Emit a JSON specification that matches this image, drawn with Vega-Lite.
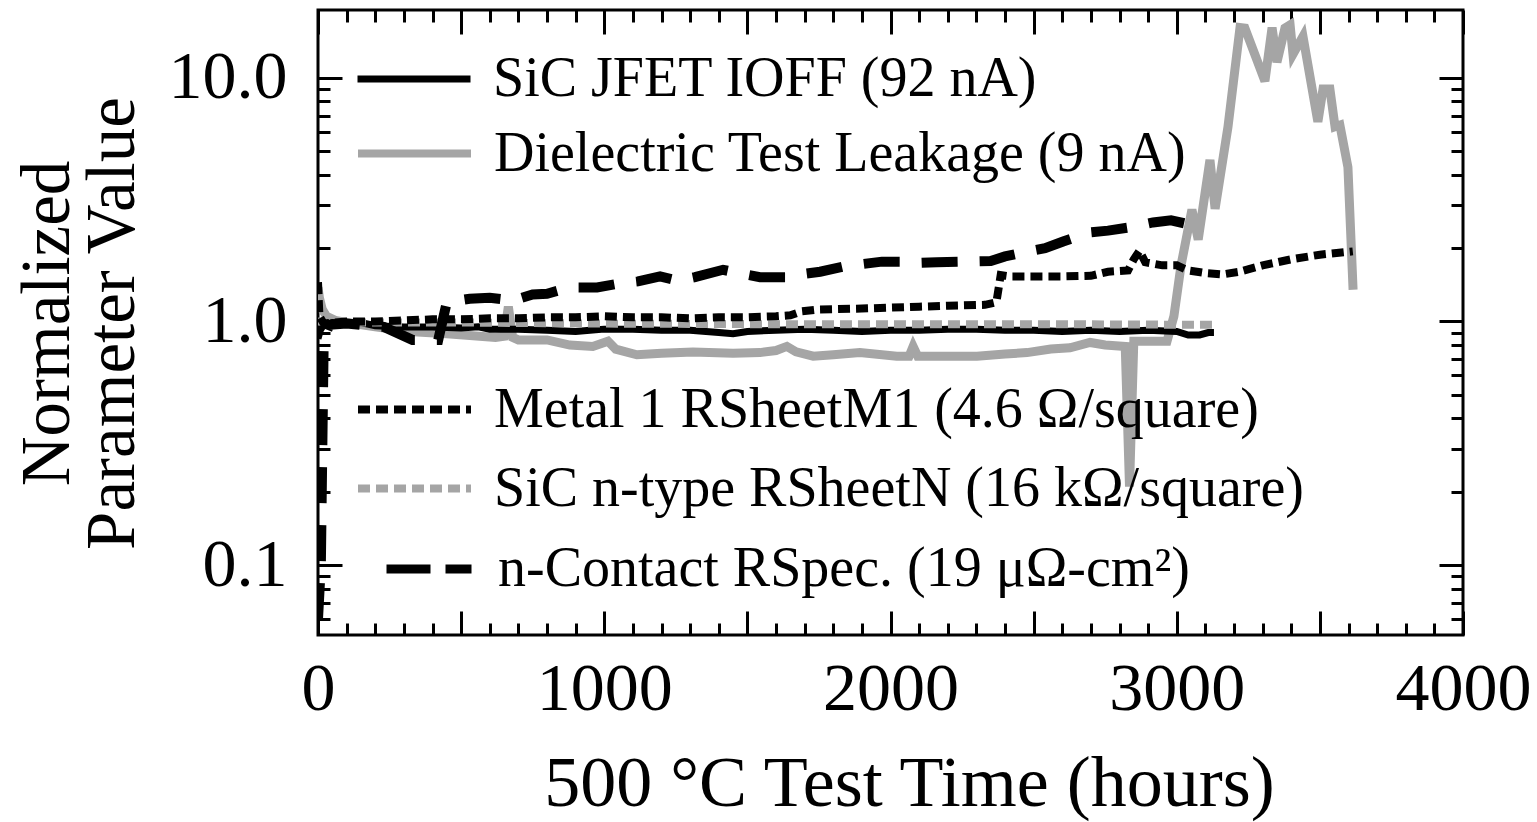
{
  "$schema": "https://vega.github.io/schema/vega-lite/v6.json",
  "width": 1145,
  "height": 625,
  "autosize": {"type": "none"},
  "padding": {"left": 318, "top": 10, "right": 74, "bottom": 187},
  "background": "white",
  "config": {
    "view": {"stroke": "black", "strokeWidth": 3},
    "font": "Liberation Serif",
    "axis": {"labelFont": "Liberation Serif", "titleFont": "Liberation Serif", "labelColor": "black", "titleColor": "black", "tickColor": "black", "grid": false, "domain": false},
    "legend": {"labelFont": "Liberation Serif", "labelColor": "black", "orient": "none", "title": null, "padding": 0, "symbolType": "stroke", "symbolSize": 12769, "labelFontSize": 56, "labelOffset": 19, "labelLimit": 0, "legendX": 36}
  },
  "data": {"values": [
      {"s": "Dielectric Test Leakage (9 nA)", "t": 0, "v": 1.38},
      {"s": "Dielectric Test Leakage (9 nA)", "t": 5, "v": 1.25},
      {"s": "Dielectric Test Leakage (9 nA)", "t": 15, "v": 1.12},
      {"s": "Dielectric Test Leakage (9 nA)", "t": 30, "v": 1.05},
      {"s": "Dielectric Test Leakage (9 nA)", "t": 60, "v": 1.01},
      {"s": "Dielectric Test Leakage (9 nA)", "t": 100, "v": 0.99},
      {"s": "Dielectric Test Leakage (9 nA)", "t": 200, "v": 0.95},
      {"s": "Dielectric Test Leakage (9 nA)", "t": 320, "v": 0.91},
      {"s": "Dielectric Test Leakage (9 nA)", "t": 450, "v": 0.89},
      {"s": "Dielectric Test Leakage (9 nA)", "t": 620, "v": 0.86},
      {"s": "Dielectric Test Leakage (9 nA)", "t": 650, "v": 0.87},
      {"s": "Dielectric Test Leakage (9 nA)", "t": 665, "v": 1.15},
      {"s": "Dielectric Test Leakage (9 nA)", "t": 680, "v": 0.86},
      {"s": "Dielectric Test Leakage (9 nA)", "t": 700, "v": 0.84},
      {"s": "Dielectric Test Leakage (9 nA)", "t": 800, "v": 0.84},
      {"s": "Dielectric Test Leakage (9 nA)", "t": 880, "v": 0.8},
      {"s": "Dielectric Test Leakage (9 nA)", "t": 960, "v": 0.79},
      {"s": "Dielectric Test Leakage (9 nA)", "t": 1013, "v": 0.83},
      {"s": "Dielectric Test Leakage (9 nA)", "t": 1040, "v": 0.77},
      {"s": "Dielectric Test Leakage (9 nA)", "t": 1114, "v": 0.73},
      {"s": "Dielectric Test Leakage (9 nA)", "t": 1200, "v": 0.74},
      {"s": "Dielectric Test Leakage (9 nA)", "t": 1310, "v": 0.75},
      {"s": "Dielectric Test Leakage (9 nA)", "t": 1450, "v": 0.74},
      {"s": "Dielectric Test Leakage (9 nA)", "t": 1544, "v": 0.745},
      {"s": "Dielectric Test Leakage (9 nA)", "t": 1600, "v": 0.76},
      {"s": "Dielectric Test Leakage (9 nA)", "t": 1638, "v": 0.79},
      {"s": "Dielectric Test Leakage (9 nA)", "t": 1670, "v": 0.75},
      {"s": "Dielectric Test Leakage (9 nA)", "t": 1730, "v": 0.72},
      {"s": "Dielectric Test Leakage (9 nA)", "t": 1800, "v": 0.73},
      {"s": "Dielectric Test Leakage (9 nA)", "t": 1893, "v": 0.745},
      {"s": "Dielectric Test Leakage (9 nA)", "t": 2022, "v": 0.72},
      {"s": "Dielectric Test Leakage (9 nA)", "t": 2065, "v": 0.72},
      {"s": "Dielectric Test Leakage (9 nA)", "t": 2079, "v": 0.79},
      {"s": "Dielectric Test Leakage (9 nA)", "t": 2095, "v": 0.72},
      {"s": "Dielectric Test Leakage (9 nA)", "t": 2200, "v": 0.72},
      {"s": "Dielectric Test Leakage (9 nA)", "t": 2302, "v": 0.72},
      {"s": "Dielectric Test Leakage (9 nA)", "t": 2400, "v": 0.735},
      {"s": "Dielectric Test Leakage (9 nA)", "t": 2477, "v": 0.745},
      {"s": "Dielectric Test Leakage (9 nA)", "t": 2560, "v": 0.77},
      {"s": "Dielectric Test Leakage (9 nA)", "t": 2627, "v": 0.78},
      {"s": "Dielectric Test Leakage (9 nA)", "t": 2697, "v": 0.82},
      {"s": "Dielectric Test Leakage (9 nA)", "t": 2750, "v": 0.8},
      {"s": "Dielectric Test Leakage (9 nA)", "t": 2820, "v": 0.79},
      {"s": "Dielectric Test Leakage (9 nA)", "t": 2835, "v": 0.21},
      {"s": "Dielectric Test Leakage (9 nA)", "t": 2850, "v": 0.83},
      {"s": "Dielectric Test Leakage (9 nA)", "t": 2900, "v": 0.83},
      {"s": "Dielectric Test Leakage (9 nA)", "t": 2966, "v": 0.83},
      {"s": "Dielectric Test Leakage (9 nA)", "t": 2990, "v": 1.05},
      {"s": "Dielectric Test Leakage (9 nA)", "t": 3015, "v": 1.7},
      {"s": "Dielectric Test Leakage (9 nA)", "t": 3053, "v": 2.88},
      {"s": "Dielectric Test Leakage (9 nA)", "t": 3075, "v": 2.17},
      {"s": "Dielectric Test Leakage (9 nA)", "t": 3116, "v": 4.6},
      {"s": "Dielectric Test Leakage (9 nA)", "t": 3134, "v": 2.9},
      {"s": "Dielectric Test Leakage (9 nA)", "t": 3179, "v": 6.3},
      {"s": "Dielectric Test Leakage (9 nA)", "t": 3221, "v": 16.1},
      {"s": "Dielectric Test Leakage (9 nA)", "t": 3238, "v": 16.0},
      {"s": "Dielectric Test Leakage (9 nA)", "t": 3308, "v": 9.7},
      {"s": "Dielectric Test Leakage (9 nA)", "t": 3333, "v": 16.1},
      {"s": "Dielectric Test Leakage (9 nA)", "t": 3350, "v": 11.6},
      {"s": "Dielectric Test Leakage (9 nA)", "t": 3378, "v": 16.0},
      {"s": "Dielectric Test Leakage (9 nA)", "t": 3396, "v": 16.5},
      {"s": "Dielectric Test Leakage (9 nA)", "t": 3406, "v": 12.5},
      {"s": "Dielectric Test Leakage (9 nA)", "t": 3441, "v": 14.8},
      {"s": "Dielectric Test Leakage (9 nA)", "t": 3493, "v": 6.6},
      {"s": "Dielectric Test Leakage (9 nA)", "t": 3511, "v": 9.0},
      {"s": "Dielectric Test Leakage (9 nA)", "t": 3535, "v": 9.0},
      {"s": "Dielectric Test Leakage (9 nA)", "t": 3553, "v": 6.3},
      {"s": "Dielectric Test Leakage (9 nA)", "t": 3570, "v": 6.4},
      {"s": "Dielectric Test Leakage (9 nA)", "t": 3598, "v": 4.3},
      {"s": "Dielectric Test Leakage (9 nA)", "t": 3616, "v": 1.35},
      {"s": "SiC JFET IOFF (92 nA)", "t": 0, "v": 0.85},
      {"s": "SiC JFET IOFF (92 nA)", "t": 8, "v": 0.92},
      {"s": "SiC JFET IOFF (92 nA)", "t": 20, "v": 0.97},
      {"s": "SiC JFET IOFF (92 nA)", "t": 50, "v": 0.99},
      {"s": "SiC JFET IOFF (92 nA)", "t": 100, "v": 0.98},
      {"s": "SiC JFET IOFF (92 nA)", "t": 150, "v": 0.99},
      {"s": "SiC JFET IOFF (92 nA)", "t": 200, "v": 0.96},
      {"s": "SiC JFET IOFF (92 nA)", "t": 300, "v": 0.95},
      {"s": "SiC JFET IOFF (92 nA)", "t": 400, "v": 0.95},
      {"s": "SiC JFET IOFF (92 nA)", "t": 500, "v": 0.94},
      {"s": "SiC JFET IOFF (92 nA)", "t": 560, "v": 0.95},
      {"s": "SiC JFET IOFF (92 nA)", "t": 600, "v": 0.93},
      {"s": "SiC JFET IOFF (92 nA)", "t": 700, "v": 0.93},
      {"s": "SiC JFET IOFF (92 nA)", "t": 800, "v": 0.92},
      {"s": "SiC JFET IOFF (92 nA)", "t": 900, "v": 0.91},
      {"s": "SiC JFET IOFF (92 nA)", "t": 950, "v": 0.92},
      {"s": "SiC JFET IOFF (92 nA)", "t": 1000, "v": 0.93},
      {"s": "SiC JFET IOFF (92 nA)", "t": 1100, "v": 0.93},
      {"s": "SiC JFET IOFF (92 nA)", "t": 1200, "v": 0.92},
      {"s": "SiC JFET IOFF (92 nA)", "t": 1300, "v": 0.92},
      {"s": "SiC JFET IOFF (92 nA)", "t": 1400, "v": 0.9},
      {"s": "SiC JFET IOFF (92 nA)", "t": 1450, "v": 0.89},
      {"s": "SiC JFET IOFF (92 nA)", "t": 1500, "v": 0.91},
      {"s": "SiC JFET IOFF (92 nA)", "t": 1600, "v": 0.92},
      {"s": "SiC JFET IOFF (92 nA)", "t": 1700, "v": 0.93},
      {"s": "SiC JFET IOFF (92 nA)", "t": 1800, "v": 0.92},
      {"s": "SiC JFET IOFF (92 nA)", "t": 1900, "v": 0.91},
      {"s": "SiC JFET IOFF (92 nA)", "t": 2000, "v": 0.92},
      {"s": "SiC JFET IOFF (92 nA)", "t": 2100, "v": 0.92},
      {"s": "SiC JFET IOFF (92 nA)", "t": 2200, "v": 0.93},
      {"s": "SiC JFET IOFF (92 nA)", "t": 2300, "v": 0.93},
      {"s": "SiC JFET IOFF (92 nA)", "t": 2400, "v": 0.92},
      {"s": "SiC JFET IOFF (92 nA)", "t": 2500, "v": 0.92},
      {"s": "SiC JFET IOFF (92 nA)", "t": 2600, "v": 0.91},
      {"s": "SiC JFET IOFF (92 nA)", "t": 2700, "v": 0.92},
      {"s": "SiC JFET IOFF (92 nA)", "t": 2800, "v": 0.91},
      {"s": "SiC JFET IOFF (92 nA)", "t": 2900, "v": 0.92},
      {"s": "SiC JFET IOFF (92 nA)", "t": 3000, "v": 0.91},
      {"s": "SiC JFET IOFF (92 nA)", "t": 3040, "v": 0.88},
      {"s": "SiC JFET IOFF (92 nA)", "t": 3080, "v": 0.88},
      {"s": "SiC JFET IOFF (92 nA)", "t": 3110, "v": 0.9},
      {"s": "SiC JFET IOFF (92 nA)", "t": 3130, "v": 0.9},
      {"s": "SiC n-type RSheetN (16 kΩ/square)", "t": 0, "v": 1.0},
      {"s": "SiC n-type RSheetN (16 kΩ/square)", "t": 100, "v": 0.99},
      {"s": "SiC n-type RSheetN (16 kΩ/square)", "t": 500, "v": 0.99},
      {"s": "SiC n-type RSheetN (16 kΩ/square)", "t": 1000, "v": 0.98},
      {"s": "SiC n-type RSheetN (16 kΩ/square)", "t": 1500, "v": 0.975},
      {"s": "SiC n-type RSheetN (16 kΩ/square)", "t": 2000, "v": 0.975},
      {"s": "SiC n-type RSheetN (16 kΩ/square)", "t": 2500, "v": 0.975},
      {"s": "SiC n-type RSheetN (16 kΩ/square)", "t": 3000, "v": 0.97},
      {"s": "SiC n-type RSheetN (16 kΩ/square)", "t": 3140, "v": 0.97},
      {"s": "Metal 1 RSheetM1 (4.6 Ω/square)", "t": 0, "v": 1.45},
      {"s": "Metal 1 RSheetM1 (4.6 Ω/square)", "t": 5, "v": 1.05},
      {"s": "Metal 1 RSheetM1 (4.6 Ω/square)", "t": 20, "v": 0.98},
      {"s": "Metal 1 RSheetM1 (4.6 Ω/square)", "t": 100, "v": 1.0},
      {"s": "Metal 1 RSheetM1 (4.6 Ω/square)", "t": 200, "v": 1.0},
      {"s": "Metal 1 RSheetM1 (4.6 Ω/square)", "t": 300, "v": 1.01},
      {"s": "Metal 1 RSheetM1 (4.6 Ω/square)", "t": 400, "v": 1.02},
      {"s": "Metal 1 RSheetM1 (4.6 Ω/square)", "t": 500, "v": 1.02},
      {"s": "Metal 1 RSheetM1 (4.6 Ω/square)", "t": 600, "v": 1.03},
      {"s": "Metal 1 RSheetM1 (4.6 Ω/square)", "t": 700, "v": 1.03},
      {"s": "Metal 1 RSheetM1 (4.6 Ω/square)", "t": 800, "v": 1.04},
      {"s": "Metal 1 RSheetM1 (4.6 Ω/square)", "t": 900, "v": 1.04},
      {"s": "Metal 1 RSheetM1 (4.6 Ω/square)", "t": 1000, "v": 1.05},
      {"s": "Metal 1 RSheetM1 (4.6 Ω/square)", "t": 1100, "v": 1.04},
      {"s": "Metal 1 RSheetM1 (4.6 Ω/square)", "t": 1200, "v": 1.04},
      {"s": "Metal 1 RSheetM1 (4.6 Ω/square)", "t": 1300, "v": 1.03},
      {"s": "Metal 1 RSheetM1 (4.6 Ω/square)", "t": 1400, "v": 1.04},
      {"s": "Metal 1 RSheetM1 (4.6 Ω/square)", "t": 1500, "v": 1.04},
      {"s": "Metal 1 RSheetM1 (4.6 Ω/square)", "t": 1600, "v": 1.05},
      {"s": "Metal 1 RSheetM1 (4.6 Ω/square)", "t": 1650, "v": 1.06},
      {"s": "Metal 1 RSheetM1 (4.6 Ω/square)", "t": 1690, "v": 1.1},
      {"s": "Metal 1 RSheetM1 (4.6 Ω/square)", "t": 1750, "v": 1.12},
      {"s": "Metal 1 RSheetM1 (4.6 Ω/square)", "t": 1900, "v": 1.13},
      {"s": "Metal 1 RSheetM1 (4.6 Ω/square)", "t": 2000, "v": 1.14},
      {"s": "Metal 1 RSheetM1 (4.6 Ω/square)", "t": 2100, "v": 1.15},
      {"s": "Metal 1 RSheetM1 (4.6 Ω/square)", "t": 2200, "v": 1.16},
      {"s": "Metal 1 RSheetM1 (4.6 Ω/square)", "t": 2330, "v": 1.17},
      {"s": "Metal 1 RSheetM1 (4.6 Ω/square)", "t": 2370, "v": 1.2},
      {"s": "Metal 1 RSheetM1 (4.6 Ω/square)", "t": 2385, "v": 1.55},
      {"s": "Metal 1 RSheetM1 (4.6 Ω/square)", "t": 2420, "v": 1.53},
      {"s": "Metal 1 RSheetM1 (4.6 Ω/square)", "t": 2500, "v": 1.53},
      {"s": "Metal 1 RSheetM1 (4.6 Ω/square)", "t": 2600, "v": 1.53},
      {"s": "Metal 1 RSheetM1 (4.6 Ω/square)", "t": 2700, "v": 1.54},
      {"s": "Metal 1 RSheetM1 (4.6 Ω/square)", "t": 2760, "v": 1.6},
      {"s": "Metal 1 RSheetM1 (4.6 Ω/square)", "t": 2830, "v": 1.62},
      {"s": "Metal 1 RSheetM1 (4.6 Ω/square)", "t": 2850, "v": 1.8},
      {"s": "Metal 1 RSheetM1 (4.6 Ω/square)", "t": 2870, "v": 1.95},
      {"s": "Metal 1 RSheetM1 (4.6 Ω/square)", "t": 2890, "v": 1.75},
      {"s": "Metal 1 RSheetM1 (4.6 Ω/square)", "t": 2950, "v": 1.7},
      {"s": "Metal 1 RSheetM1 (4.6 Ω/square)", "t": 3000, "v": 1.7},
      {"s": "Metal 1 RSheetM1 (4.6 Ω/square)", "t": 3040, "v": 1.62},
      {"s": "Metal 1 RSheetM1 (4.6 Ω/square)", "t": 3100, "v": 1.58},
      {"s": "Metal 1 RSheetM1 (4.6 Ω/square)", "t": 3160, "v": 1.56},
      {"s": "Metal 1 RSheetM1 (4.6 Ω/square)", "t": 3220, "v": 1.6},
      {"s": "Metal 1 RSheetM1 (4.6 Ω/square)", "t": 3300, "v": 1.7},
      {"s": "Metal 1 RSheetM1 (4.6 Ω/square)", "t": 3400, "v": 1.8},
      {"s": "Metal 1 RSheetM1 (4.6 Ω/square)", "t": 3500, "v": 1.88},
      {"s": "Metal 1 RSheetM1 (4.6 Ω/square)", "t": 3615, "v": 1.94},
      {"s": "n-Contact RSpec. (19 μΩ-cm²)", "t": 0, "v": 0.06},
      {"s": "n-Contact RSpec. (19 μΩ-cm²)", "t": 10, "v": 0.1},
      {"s": "n-Contact RSpec. (19 μΩ-cm²)", "t": 15, "v": 0.3},
      {"s": "n-Contact RSpec. (19 μΩ-cm²)", "t": 20, "v": 0.85},
      {"s": "n-Contact RSpec. (19 μΩ-cm²)", "t": 40, "v": 0.97},
      {"s": "n-Contact RSpec. (19 μΩ-cm²)", "t": 100, "v": 0.98},
      {"s": "n-Contact RSpec. (19 μΩ-cm²)", "t": 180, "v": 0.96},
      {"s": "n-Contact RSpec. (19 μΩ-cm²)", "t": 230, "v": 0.95},
      {"s": "n-Contact RSpec. (19 μΩ-cm²)", "t": 330, "v": 0.84},
      {"s": "n-Contact RSpec. (19 μΩ-cm²)", "t": 420, "v": 0.84},
      {"s": "n-Contact RSpec. (19 μΩ-cm²)", "t": 450, "v": 1.2},
      {"s": "n-Contact RSpec. (19 μΩ-cm²)", "t": 530, "v": 1.24},
      {"s": "n-Contact RSpec. (19 μΩ-cm²)", "t": 600, "v": 1.25},
      {"s": "n-Contact RSpec. (19 μΩ-cm²)", "t": 680, "v": 1.22},
      {"s": "n-Contact RSpec. (19 μΩ-cm²)", "t": 750, "v": 1.29},
      {"s": "n-Contact RSpec. (19 μΩ-cm²)", "t": 800, "v": 1.3},
      {"s": "n-Contact RSpec. (19 μΩ-cm²)", "t": 880, "v": 1.38},
      {"s": "n-Contact RSpec. (19 μΩ-cm²)", "t": 975, "v": 1.38},
      {"s": "n-Contact RSpec. (19 μΩ-cm²)", "t": 1050, "v": 1.43},
      {"s": "n-Contact RSpec. (19 μΩ-cm²)", "t": 1118, "v": 1.46},
      {"s": "n-Contact RSpec. (19 μΩ-cm²)", "t": 1195, "v": 1.53},
      {"s": "n-Contact RSpec. (19 μΩ-cm²)", "t": 1256, "v": 1.47},
      {"s": "n-Contact RSpec. (19 μΩ-cm²)", "t": 1317, "v": 1.52},
      {"s": "n-Contact RSpec. (19 μΩ-cm²)", "t": 1415, "v": 1.63},
      {"s": "n-Contact RSpec. (19 μΩ-cm²)", "t": 1480, "v": 1.57},
      {"s": "n-Contact RSpec. (19 μΩ-cm²)", "t": 1544, "v": 1.52},
      {"s": "n-Contact RSpec. (19 μΩ-cm²)", "t": 1640, "v": 1.52},
      {"s": "n-Contact RSpec. (19 μΩ-cm²)", "t": 1700, "v": 1.57},
      {"s": "n-Contact RSpec. (19 μΩ-cm²)", "t": 1754, "v": 1.6},
      {"s": "n-Contact RSpec. (19 μΩ-cm²)", "t": 1834, "v": 1.68},
      {"s": "n-Contact RSpec. (19 μΩ-cm²)", "t": 1900, "v": 1.72},
      {"s": "n-Contact RSpec. (19 μΩ-cm²)", "t": 1970, "v": 1.76},
      {"s": "n-Contact RSpec. (19 μΩ-cm²)", "t": 2044, "v": 1.76},
      {"s": "n-Contact RSpec. (19 μΩ-cm²)", "t": 2100, "v": 1.74},
      {"s": "n-Contact RSpec. (19 μΩ-cm²)", "t": 2162, "v": 1.75},
      {"s": "n-Contact RSpec. (19 μΩ-cm²)", "t": 2270, "v": 1.76},
      {"s": "n-Contact RSpec. (19 μΩ-cm²)", "t": 2350, "v": 1.77},
      {"s": "n-Contact RSpec. (19 μΩ-cm²)", "t": 2400, "v": 1.85},
      {"s": "n-Contact RSpec. (19 μΩ-cm²)", "t": 2480, "v": 1.94},
      {"s": "n-Contact RSpec. (19 μΩ-cm²)", "t": 2540, "v": 2.0},
      {"s": "n-Contact RSpec. (19 μΩ-cm²)", "t": 2603, "v": 2.13},
      {"s": "n-Contact RSpec. (19 μΩ-cm²)", "t": 2697, "v": 2.32},
      {"s": "n-Contact RSpec. (19 μΩ-cm²)", "t": 2760, "v": 2.36},
      {"s": "n-Contact RSpec. (19 μΩ-cm²)", "t": 2830, "v": 2.43},
      {"s": "n-Contact RSpec. (19 μΩ-cm²)", "t": 2917, "v": 2.55},
      {"s": "n-Contact RSpec. (19 μΩ-cm²)", "t": 2980, "v": 2.6},
      {"s": "n-Contact RSpec. (19 μΩ-cm²)", "t": 3046, "v": 2.5}
  ]},
  "layer": [
    {
      "transform": [{"filter": {"field": "s", "equal": "Dielectric Test Leakage (9 nA)"}}],
      "mark": {"type": "line", "clip": true, "strokeWidth": 9},
      "encoding": {
        "x": {"field": "t", "type": "quantitative", "scale": {"domain": [0, 4000], "nice": false, "zero": false},
          "axis": {"orient": "bottom", "values": [0, 1000, 2000, 3000, 4000], "format": "d", "ticks": false, "labelFontSize": 68, "labelPadding": 20, "labelFlush": false, "labelOverlap": false,
            "title": "500 °C Test Time (hours)", "titleFontSize": 72, "titleFontWeight": "normal", "titleX": 591, "titleY": 170, "titleAlign": "center", "titleBaseline": "alphabetic"}},
        "y": {"field": "v", "type": "quantitative", "scale": {"type": "log", "domain": [0.0516, 19], "nice": false},
          "axis": {"orient": "left", "values": [0.1, 1, 10], "labelExpr": "datum.value >= 9 ? '10.0' : datum.value >= 0.9 ? '1.0' : '0.1'", "ticks": false, "labelFontSize": 68, "labelPadding": 31, "labelOverlap": false,
            "title": ["Normalized", "Parameter Value"], "titleFontSize": 69, "titleFontWeight": "normal", "titleAngle": -90, "titleX": -271, "titleY": 313, "titleAlign": "center", "titleBaseline": "middle", "titleLineHeight": 65}},
        "color": {"field": "s", "type": "nominal", "scale": {"range": ["#a5a5a5"]},
          "legend": {"legendY": 83, "symbolStrokeWidth": 8}}
      }
    },
    {
      "transform": [{"filter": {"field": "s", "equal": "SiC JFET IOFF (92 nA)"}}],
      "mark": {"type": "line", "clip": true, "strokeWidth": 7},
      "encoding": {
        "x": {"field": "t", "type": "quantitative",
          "axis": {"orient": "bottom", "values": [0,100,200,300,400,500,600,700,800,900,1000,1100,1200,1300,1400,1500,1600,1700,1800,1900,2000,2100,2200,2300,2400,2500,2600,2700,2800,2900,3000,3100,3200,3300,3400,3500,3600,3700,3800,3900,4000], "labels": false, "title": null, "tickWidth": 3, "tickSize": {"expr": "datum.value % 500 == 0 ? -24 : -12"}}},
        "y": {"field": "v", "type": "quantitative",
          "axis": {"orient": "left", "values": [0.06,0.07,0.08,0.09,0.1,0.2,0.3,0.4,0.5,0.6,0.7,0.8,0.9,1,2,3,4,5,6,7,8,9,10], "labels": false, "title": null, "tickWidth": 3, "tickSize": {"expr": "(datum.value == 0.1 || datum.value == 1 || datum.value == 10) ? -24 : -12"}}},
        "color": {"field": "s", "type": "nominal", "scale": {"range": ["#000000"]},
          "legend": {"legendY": 9, "symbolStrokeWidth": 7}}
      }
    },
    {
      "transform": [{"filter": {"field": "s", "equal": "SiC n-type RSheetN (16 kΩ/square)"}}],
      "mark": {"type": "line", "clip": true, "strokeWidth": 8, "strokeDash": [12, 6]},
      "encoding": {
        "x": {"field": "t", "type": "quantitative",
          "axis": {"orient": "top", "values": [0,100,200,300,400,500,600,700,800,900,1000,1100,1200,1300,1400,1500,1600,1700,1800,1900,2000,2100,2200,2300,2400,2500,2600,2700,2800,2900,3000,3100,3200,3300,3400,3500,3600,3700,3800,3900,4000], "labels": false, "title": null, "tickWidth": 3, "tickSize": {"expr": "datum.value % 500 == 0 ? -24 : -12"}}},
        "y": {"field": "v", "type": "quantitative",
          "axis": {"orient": "right", "values": [0.06,0.07,0.08,0.09,0.1,0.2,0.3,0.4,0.5,0.6,0.7,0.8,0.9,1,2,3,4,5,6,7,8,9,10], "labels": false, "title": null, "tickWidth": 3, "tickSize": {"expr": "(datum.value == 0.1 || datum.value == 1 || datum.value == 10) ? -24 : -12"}}},
        "color": {"field": "s", "type": "nominal", "scale": {"range": ["#a5a5a5"]},
          "legend": {"legendY": 418, "symbolStrokeWidth": 8, "symbolDash": [12, 6]}}
      }
    },
    {
      "transform": [{"filter": {"field": "s", "equal": "Metal 1 RSheetM1 (4.6 Ω/square)"}}],
      "mark": {"type": "line", "clip": true, "strokeWidth": 8, "strokeDash": [12, 6]},
      "encoding": {
        "x": {"field": "t", "type": "quantitative", "axis": null},
        "y": {"field": "v", "type": "quantitative", "axis": null},
        "color": {"field": "s", "type": "nominal", "scale": {"range": ["#000000"]},
          "legend": {"legendY": 339, "symbolStrokeWidth": 8, "symbolDash": [12, 6]}}
      }
    },
    {
      "transform": [{"filter": {"field": "s", "equal": "n-Contact RSpec. (19 μΩ-cm²)"}}],
      "mark": {"type": "line", "clip": true, "strokeWidth": 10, "strokeDash": [36, 22]},
      "encoding": {
        "x": {"field": "t", "type": "quantitative", "axis": null},
        "y": {"field": "v", "type": "quantitative", "axis": null},
        "color": {"field": "s", "type": "nominal", "scale": {"range": ["#000000"]},
          "legend": {"legendY": 512, "legendX": 64, "symbolSize": 7225, "labelOffset": 22, "symbolStrokeWidth": 9, "symbolDash": [44, 15]}}
      }
    }
  ],
  "resolve": {
    "scale": {"color": "independent"},
    "axis": {"x": "independent", "y": "independent"},
    "legend": {"color": "independent"}
  }
}
